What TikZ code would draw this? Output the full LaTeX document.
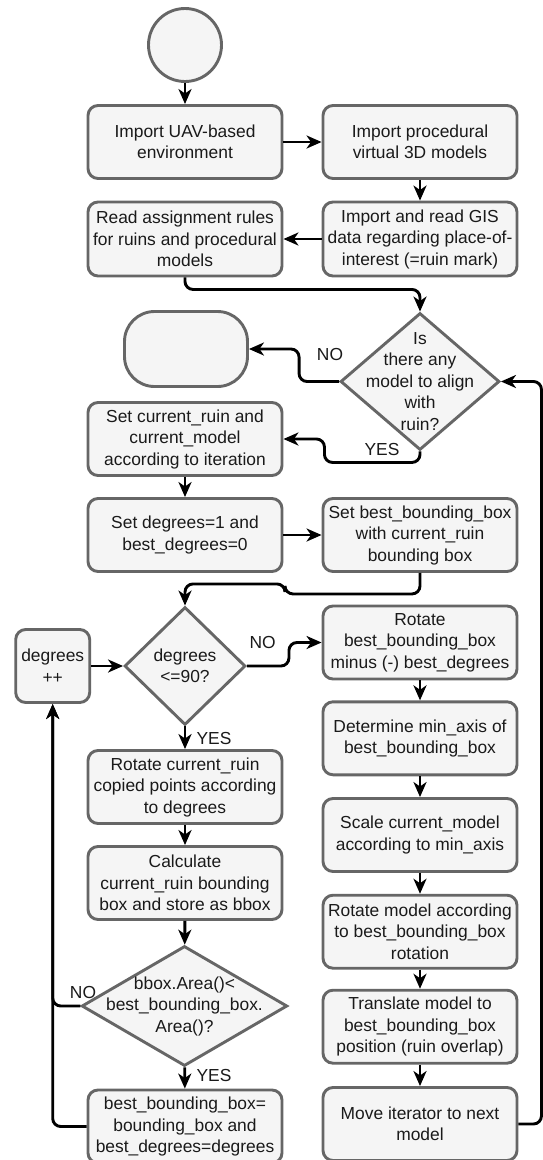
\documentclass[tikz,border=0pt]{standalone}
\usepackage{fontspec}
\setmainfont{Liberation Sans}
\usetikzlibrary{shapes.geometric, arrows.meta}
\usepackage{xcolor}
\definecolor{BoxFill}{HTML}{F5F5F5}
\definecolor{BoxLine}{HTML}{666666}
\definecolor{BoxText}{HTML}{1A1A1A}
\newcommand{\flowfont}{\fontsize{17.4}{21.5}\selectfont}

\tikzset{
  stepbox/.style={draw=BoxLine, fill=BoxFill, line width=2.9pt, rounded corners=10pt,
    minimum width=194pt, minimum height=73pt, inner xsep=2pt, inner ysep=3pt,
    align=center, text=BoxText, font=\flowfont},
  decision/.style={diamond, draw=BoxLine, fill=BoxFill, line width=2.9pt, inner sep=0pt},
  dectext/.style={align=center, text=BoxText, font=\flowfont},
  flow/.style={-{Stealth[length=15pt,width=13pt,inset=4.5pt]}, line width=2.9pt, rounded corners=8pt},
  tag/.style={text=BoxText, font=\flowfont, inner sep=1pt}
}

\begin{document}
\begin{tikzpicture}[x=1pt, y=-1pt]
                \useasboundingbox[fill=white] (0,0) rectangle (542,1160);

                % Start and end
                \node[circle, draw=BoxLine, fill=BoxFill, line width=2.9pt, minimum size=73pt] (start) at (185,45) {};
                \node[stepbox, minimum width=123pt, minimum height=75pt, rounded corners=30pt] (finish) at (186,349) {};

                % Import steps
                \node[stepbox] (importenv) at (185,142) {Import UAV-based\\environment};
                \node[stepbox] (importmod) at (420,142) {Import procedural\\virtual 3D models};
                \node[stepbox, minimum height=74pt] (readgis) at (420,239) {Import and read GIS\\data regarding place-of-\\interest (=ruin mark)};
                \node[stepbox, minimum height=74pt] (readrules) at (185,239) {Read assignment rules\\for ruins and procedural\\models};

                % Outer loop
                \node[decision, minimum width=159pt, minimum height=137pt,
                  label={[dectext]center:{Is\\there any\\model to align\\with\\ruin?}}] (anymodel) at (420,381.5) {};
                \node[stepbox] (setcurrent) at (185,439) {Set current\_ruin and\\current\_model\\according to iteration};
                \node[stepbox] (setdeg) at (185,535) {Set degrees=1 and\\best\_degrees=0};
                \node[stepbox] (setbest) at (420,535) {Set best\_bounding\_box\\with current\_ruin\\bounding box};

                % Inner loop
                \node[decision, minimum width=121pt, minimum height=118pt,
                  label={[dectext]center:{degrees\\<=90?}}] (degcheck) at (185,666) {};
                \node[stepbox, minimum width=74pt] (degplus) at (52.7,666) {degrees\\++};
                \node[stepbox] (rotruin) at (185,787) {Rotate current\_ruin\\copied points according\\to degrees};
                \node[stepbox] (calcbbox) at (185,883) {Calculate\\current\_ruin bounding\\box and store as bbox};
                \node[decision, minimum width=205.6pt, minimum height=120pt,
                  label={[dectext]center:{bbox.Area()<\\best\_bounding\_box.\\Area()?}}] (areacheck) at (184.5,1006) {};
                \node[stepbox] (storebest) at (185,1126.5) {best\_bounding\_box=\\bounding\_box and\\best\_degrees=degrees};

                % Model placement
                \node[stepbox] (rotbest) at (420,642.5) {Rotate\\best\_bounding\_box\\minus (-) best\_degrees};
                \node[stepbox] (minaxis) at (420,738.3) {Determine min\_axis of\\best\_bounding\_box};
                \node[stepbox] (scalemodel) at (420,835) {Scale current\_model\\according to min\_axis};
                \node[stepbox] (rotmodel) at (420,931.7) {Rotate model according\\to best\_bounding\_box\\rotation};
                \node[stepbox] (translate) at (420,1026.7) {Translate model to\\best\_bounding\_box\\position (ruin overlap)};
                \node[stepbox] (nextmodel) at (420,1124) {Move iterator to next\\model};

                % Connectors
                \draw[flow] (start) -- (importenv);
                \draw[flow] (importenv) -- (importmod);
                \draw[flow] (importmod) -- (readgis);
                \draw[flow] (readgis) -- (readrules);
                \draw[flow] (readrules.south) -- ++(0,12) -| (anymodel.north);
                \draw[flow] (anymodel.west) -- ++(-40,0) |- (finish.east);
                \draw[flow] (anymodel.south) -- ++(0,11) -| ([xshift=41pt]setcurrent.east) -- (setcurrent.east);
                \draw[flow] (setcurrent) -- (setdeg);
                \draw[flow] (setdeg) -- (setbest);
                \draw[flow] (setbest.south) -- ++(0,21) -| ++(-135,-10) -| (degcheck.north);
                \draw[flow] (degplus) -- (degcheck);
                \draw[flow] (degcheck.east) -- ++(42,0) |- (rotbest.west);
                \draw[flow] (degcheck) -- (rotruin);
                \draw[flow] (rotruin) -- (calcbbox);
                \draw[flow] (calcbbox) -- (areacheck);
                \draw[flow] (areacheck) -- (storebest);
                \draw[flow] (areacheck.west) -| (degplus.south);
                \draw[flow] (storebest.west) -| (degplus.south);
                \draw[flow] (rotbest) -- (minaxis);
                \draw[flow] (minaxis) -- (scalemodel);
                \draw[flow] (scalemodel) -- (rotmodel);
                \draw[flow] (rotmodel) -- (translate);
                \draw[flow] (translate) -- (nextmodel);
                \draw[flow] (nextmodel.east) -- ++(23,0) |- (anymodel.east);

                % Branch labels
                \node[tag] (noend) at (330,355) {NO};
                \node[tag] (yesset) at (382,450) {YES};
                \node[tag] (nodeg) at (262.7,643) {NO};
                \node[tag] (yesrot) at (214,738) {YES};
                \node[tag] (noarea) at (83,992) {NO};
                \node[tag] (yesstore) at (214,1075) {YES};
            \end{tikzpicture}
\end{document}
